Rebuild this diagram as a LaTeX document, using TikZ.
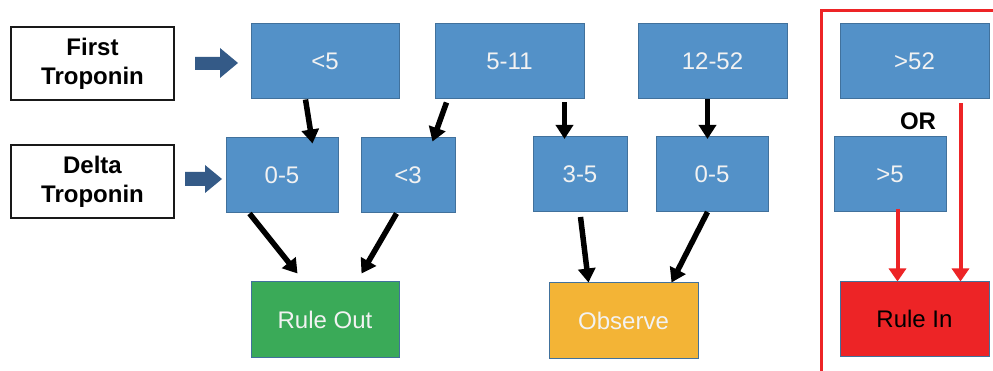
\documentclass[tikz,border=0pt]{standalone}
\usepackage{fontspec}
\setmainfont{Liberation Sans}
\usetikzlibrary{arrows.meta,calc}
\definecolor{boxblue}{RGB}{83,145,200}
\definecolor{boxedge}{RGB}{65,113,156}
\definecolor{boxtext}{RGB}{242,242,242}
\definecolor{okgreen}{RGB}{58,170,88}
\definecolor{obsorange}{RGB}{243,180,54}
\definecolor{inred}{RGB}{237,36,38}
\definecolor{blockblue}{RGB}{52,90,135}
\begin{document}
\begin{tikzpicture}[x=1pt,y=-1pt,
  every node/.style={inner sep=0pt,font=\fontsize{24}{29}\selectfont},
  bluebox/.style={draw=boxedge,line width=1pt,fill=boxblue,text=boxtext,minimum width=#1,minimum height=75pt},
  endbox/.style={draw=boxedge,line width=1pt,minimum width=148pt,minimum height=75pt},
  labelbox/.style={draw=black!90,line width=2pt,fill=white,minimum width=163pt,minimum height=73pt,align=center,font=\fontsize{24}{29}\selectfont\bfseries},
  blockarrow/.style={fill=blockblue},
  blk/.style={draw=black,line width=5.5pt,-{Triangle[width=17pt,length=14pt]}},
  redarrow/.style={draw=inred,line width=4pt,-{Triangle[width=17pt,length=13pt]}}
]
\useasboundingbox[fill=white] (0,0) rectangle (993,371);

% red frame
\draw[inred,line width=3pt] (821,11) rectangle (1005,385);

% label boxes
\node[labelbox] (ft) at (92.5,64) {First\\Troponin};
\node[labelbox] (dt) at (92.5,182) {Delta\\Troponin};

% block arrows
\fill[blockarrow] (195,57) -- (220,57) -- (220,48) -- (238,63) -- (220,78) -- (220,70) -- (195,70) -- cycle;
\fill[blockarrow] (185,172) -- (205,172) -- (205,165) -- (222,179) -- (205,193) -- (205,186) -- (185,186) -- cycle;

% first troponin row
\node[bluebox=148pt] (lt5) at (325,61.5) {<5};
\node[bluebox=149pt] (b511) at (509.5,61.5) {5-11};
\node[bluebox=149pt] (b1252) at (712.5,61.5) {12-52};
\node[bluebox=149pt] (gt52) at (914.5,61.5) {>52};

% delta troponin row
\node[bluebox=112pt] (d05a) at (282,175.5) {0-5};
\node[bluebox=94pt] (dlt3) at (408,175.5) {<3};
\node[bluebox=94pt] (d35) at (580,174) {3-5};
\node[bluebox=112pt] (d05b) at (712,174) {0-5};
\node[bluebox=112pt] (dgt5) at (890,174) {>5};

\node[font=\fontsize{24}{29}\selectfont\bfseries] (or) at (918,121) {OR};

% outcomes
\node[endbox,fill=okgreen,text=boxtext] (ruleout) at (325,319.5) {Rule Out};
\node[endbox,fill=obsorange,text=boxtext,minimum width=149pt] (observe) at (623.5,320.5) {Observe};
\node[endbox,fill=inred,text=black,minimum width=149pt,minimum height=74pt] (rulein) at (914.5,319) {Rule In};

% black arrows
\draw[blk] ($(lt5.south west)+(55,0)$) -- ($(d05a.north west)+(87,6)$);
\draw[blk] ($(b511.south west)+(12,3)$) -- ($(dlt3.north west)+(72,4)$);
\draw[blk] ($(b511.south west)+(130,3)$) -- ($(d35.north west)+(32,3)$);
\draw[blk] ($(b1252.south west)+(70,0)$) -- ($(d05b.north west)+(52,3)$);
\draw[blk] ($(d05a.south west)+(24,0)$) -- ($(ruleout.north west)+(47,-8)$);
\draw[blk] ($(dlt3.south west)+(36,0)$) -- ($(ruleout.north west)+(111,-8)$);
\draw[blk] ($(d35.south west)+(48,5)$) -- ($(observe.north west)+(40,0)$);
\draw[blk] ($(d05b.south west)+(52,0)$) -- ($(observe.north west)+(123,0)$);

% red arrows
\draw[redarrow] ($(dgt5.south west)+(64,-3)$) -- ($(rulein.north west)+(58,0)$);
\draw[redarrow] ($(gt52.south west)+(121,4)$) -- ($(rulein.north west)+(121,0)$);
\end{tikzpicture}
\end{document}
